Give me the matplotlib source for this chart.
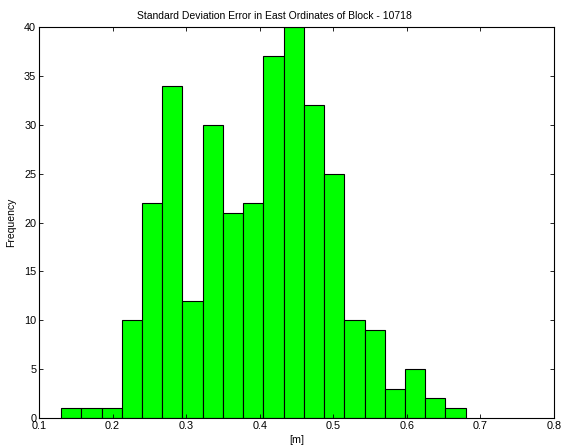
import matplotlib
matplotlib.use("Agg")
import matplotlib.pyplot as plt
import numpy as np

plt.rcParams['font.family'] = ['Liberation Sans', 'DejaVu Sans']

bin_start = 0.13
bin_width = 0.0275
counts = [1, 1, 1, 10, 22, 34, 12, 30, 21, 22, 37, 40, 32, 25, 10, 9, 3, 5, 2, 1]
xticks = [0.1, 0.2, 0.3, 0.4, 0.5, 0.6, 0.7, 0.8]
yticks = [0, 5, 10, 15, 20, 25, 30, 35, 40]

fig = plt.figure(figsize=(5.63, 4.48), dpi=100)
ax = fig.add_axes([39/563, 1-418/448, (554-39)/563, (418-27)/448])

lefts = bin_start + bin_width * np.arange(len(counts))
ax.bar(lefts, counts, width=bin_width, align='edge', color='#00ff00',
       edgecolor='black', linewidth=0.8)

ax.set_xlim(0.1, 0.8)
ax.set_ylim(0, 40)
ax.set_xticks(xticks)
ax.set_xticklabels([f"{t:g}" for t in xticks])
ax.set_yticks(yticks)
ax.tick_params(direction='in', top=True, right=True, labelsize=7.8, length=3, width=0.6, pad=2)
for s in ax.spines.values():
    s.set_linewidth(0.8)
ax.set_title('Standard Deviation Error in East Ordinates of Block - 10718',
             fontsize=7.5, pad=6, x=0.458)
ax.set_xlabel('[m]', fontsize=7.8, labelpad=3)
ax.set_ylabel('Frequency', fontsize=7.5, labelpad=6)

fig.savefig('out.png', dpi=100)
